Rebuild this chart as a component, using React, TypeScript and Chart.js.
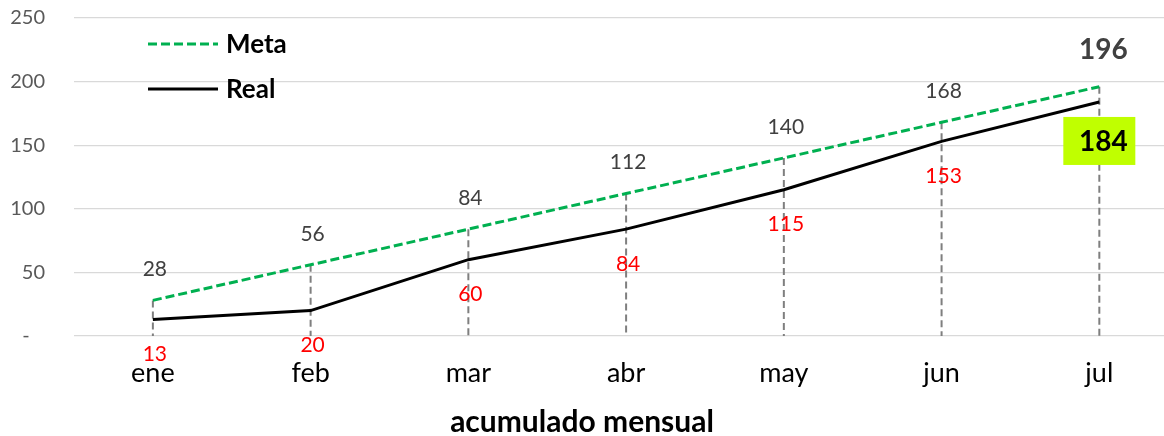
import { useEffect, useRef } from 'react';
import { Chart, registerables } from 'chart.js';
Chart.register(...registerables);

const months = ['ene', 'feb', 'mar', 'abr', 'may', 'jun', 'jul'];
const metaValues = [28, 56, 84, 112, 140, 168, 196];
const realValues = [13, 20, 60, 84, 115, 153, 184];
const yTicks = [0, 50, 100, 150, 200, 250];
const seriesNames = ['Meta', 'Real'];
const xTitle = 'acumulado mensual';

const FONT = 'Lato, "Open Sans", sans-serif';
const GREEN = '#00B050';

export default function App() {
  const ref = useRef<HTMLCanvasElement>(null);

  useEffect(() => {
    const overlay = {
      id: 'overlay',
      beforeDatasetsDraw(chart: any) {
        const ctx = chart.ctx;
        const area = chart.chartArea;
        const meta = chart.getDatasetMeta(0);
        ctx.save();
        ctx.strokeStyle = '#7F7F7F';
        ctx.lineWidth = 2;
        ctx.setLineDash([7, 4]);
        meta.data.forEach((p: any) => {
          ctx.beginPath();
          ctx.moveTo(p.x, p.y);
          ctx.lineTo(p.x, area.bottom);
          ctx.stroke();
        });
        ctx.restore();
      },
      afterDatasetsDraw(chart: any) {
        const ctx = chart.ctx;
        const metaPts = chart.getDatasetMeta(0).data;
        const realPts = chart.getDatasetMeta(1).data;
        const last = metaValues.length - 1;
        ctx.save();
        ctx.textAlign = 'center';
        ctx.textBaseline = 'middle';
        metaPts.forEach((p: any, i: number) => {
          if (i === last) {
            ctx.font = `bold 28px ${FONT}`;
            ctx.fillStyle = '#404040';
            ctx.fillText(String(metaValues[i]), p.x + 4, p.y - 37);
          } else {
            ctx.font = `21px ${FONT}`;
            ctx.fillStyle = '#404040';
            ctx.fillText(String(metaValues[i]), p.x + 2, p.y - 31);
          }
        });
        realPts.forEach((p: any, i: number) => {
          if (i === last) {
            ctx.fillStyle = '#C0FF00';
            ctx.fillRect(p.x - 36, p.y + 15, 72, 48);
            ctx.font = `bold 28px ${FONT}`;
            ctx.fillStyle = '#000000';
            ctx.fillText(String(realValues[i]), p.x + 4, p.y + 40);
          } else {
            ctx.font = `21px ${FONT}`;
            ctx.fillStyle = '#FF0000';
            ctx.fillText(String(realValues[i]), p.x + 2, p.y + 35);
          }
        });
        // legend
        const colors = [GREEN, '#000000'];
        const dashes = [[9, 4], []];
        const ys = [44, 89];
        seriesNames.forEach((name, k) => {
          ctx.strokeStyle = colors[k];
          ctx.lineWidth = 3;
          ctx.setLineDash(dashes[k]);
          ctx.beginPath();
          ctx.moveTo(148, ys[k]);
          ctx.lineTo(218, ys[k]);
          ctx.stroke();
          ctx.setLineDash([]);
          ctx.font = `bold 26px ${FONT}`;
          ctx.fillStyle = '#000000';
          ctx.textAlign = 'left';
          ctx.fillText(name, 226, ys[k] + 1);
        });
        // axis title, centred on the whole figure
        ctx.textAlign = 'center';
        ctx.font = `bold 30px ${FONT}`;
        ctx.fillStyle = '#000000';
        ctx.fillText(xTitle, chart.width / 2, 422);
        ctx.restore();
      },
    };

    const chart = new Chart(ref.current as HTMLCanvasElement, {
      type: 'line',
      data: {
        datasets: [
          {
            label: seriesNames[0],
            data: metaValues.map((y, i) => ({ x: i, y })),
            borderColor: GREEN,
            borderWidth: 3,
            borderDash: [9, 4],
            pointRadius: 0,
            fill: false,
            tension: 0,
          },
          {
            label: seriesNames[1],
            data: realValues.map((y, i) => ({ x: i, y })),
            borderColor: '#000000',
            borderWidth: 3,
            pointRadius: 0,
            fill: false,
            tension: 0,
          },
        ],
      },
      options: {
        responsive: false,
        animation: false,
        layout: { padding: { top: 18, left: 0, right: 0, bottom: 0 } },
        plugins: { legend: { display: false }, tooltip: { enabled: false } },
        scales: {
          x: {
            type: 'linear',
            min: -0.5,
            max: 6.41,
            afterBuildTicks: (s: any) => {
              s.ticks = months.map((_, i) => ({ value: i }));
            },
            afterFit: (s: any) => {
              s.height = 100;
              s.paddingLeft = 0;
              s.paddingRight = 0;
            },
            grid: { display: false, drawTicks: false },
            border: { display: false },
            ticks: {
              autoSkip: false,
              maxRotation: 0,
              padding: 21,
              color: '#000000',
              font: { family: FONT, size: 27 },
              callback: (v: any) => months[v] ?? '',
            },
          },
          y: {
            min: 0,
            max: 250,
            afterBuildTicks: (s: any) => {
              s.ticks = yTicks.map((v) => ({ value: v }));
            },
            afterFit: (s: any) => {
              s.width = 74;
              s.paddingTop = 0;
              s.paddingBottom = 0;
            },
            grid: { color: '#D9D9D9', lineWidth: 1.3, drawTicks: false },
            border: { display: false },
            ticks: {
              padding: 29,
              color: '#595959',
              font: { family: FONT, size: 20 },
              callback: (v: any) => (v === 0 ? '-   ' : String(v)),
            },
          },
        },
      },
      plugins: [overlay],
    });
    return () => chart.destroy();
  }, []);

  return (
    <div style={{ position: 'fixed', left: 0, top: 0, width: 1164, height: 436, background: '#ffffff' }}>
      <canvas ref={ref} width={1164} height={436} />
    </div>
  );
}
